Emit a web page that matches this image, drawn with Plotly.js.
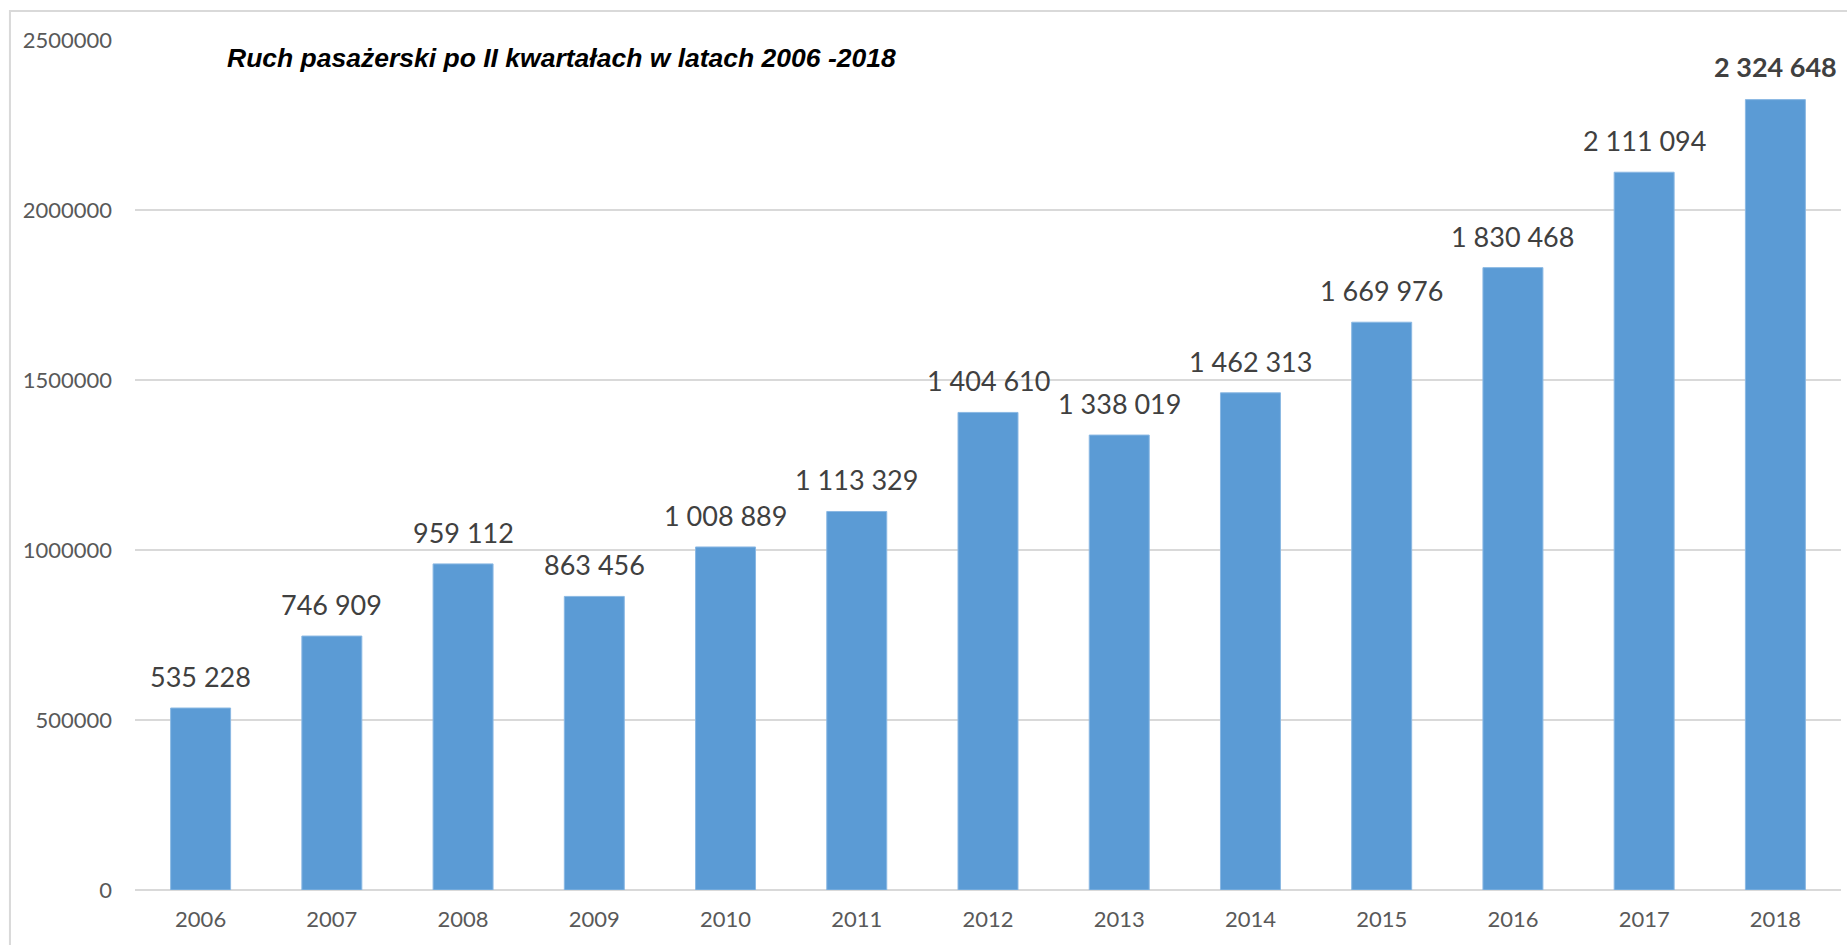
<!DOCTYPE html>
<html>
<head>
<meta charset="utf-8">
<script src="https://cdn.plot.ly/plotly-3.0.1.min.js"></script>
<style>html,body{margin:0;padding:0;background:#fff;}#chart{width:1847px;height:945px;}</style>
</head>
<body>
<div id="chart"></div>
<script>
const years = ["2006","2007","2008","2009","2010","2011","2012","2013","2014","2015","2016","2017","2018"];
const passengers = [535228, 746909, 959112, 863456, 1008889, 1113329, 1404610, 1338019, 1462313, 1669976, 1830468, 2111094, 2324648];
const yTicks = [0, 500000, 1000000, 1500000, 2000000, 2500000];
const titleText = "Ruch pasażerski po II kwartałach w latach 2006 -2018";

function fmt(v){ return String(v).replace(/\B(?=(\d{3})+(?!\d))/g, " "); }

const annotations = years.map((yr, i) => {
  const last = i === years.length - 1;
  return {
    x: i, y: passengers[i], xref: 'x', yref: 'y',
    text: last ? '<b>' + fmt(passengers[i]) + '</b>' : fmt(passengers[i]),
    showarrow: false, xanchor: 'center', yanchor: 'bottom', yshift: last ? 15 : 13,
    font: {family: 'Lato, "Open Sans", sans-serif', size: 27, color: '#404040'}
  };
});
annotations.push({
  xref: 'paper', yref: 'paper', x: 0.0528, y: 0.979, xanchor: 'left', yanchor: 'middle',
  text: '<b><i>' + titleText + '</i></b>', showarrow: false,
  font: {family: '"Liberation Sans", Arial, sans-serif', size: 26.5, color: '#000000'}
});

const trace = {
  type: 'bar', x: years, y: passengers,
  marker: {color: '#5b9bd5', line: {color: '#8ab8e3', width: 1}},
  hoverinfo: 'x+y'
};

const layout = {
  width: 1847, height: 945,
  margin: {l: 135, r: 6, t: 40, b: 55},
  paper_bgcolor: '#ffffff', plot_bgcolor: '#ffffff',
  showlegend: false,
  bargap: 0.543,
  font: {family: 'Lato, "Open Sans", sans-serif', size: 22, color: '#595959'},
  xaxis: {
    type: 'category', range: [-0.5, years.length - 0.5],
    showgrid: false, showline: false, ticks: '',
    ticklabelstandoff: 14,
    tickfont: {family: 'Lato, "Open Sans", sans-serif', size: 22, color: '#595959'}
  },
  yaxis: {
    range: [0, 2500000], tickvals: yTicks, tickformat: 'd',
    showgrid: true, gridcolor: '#d9d9d9', gridwidth: 2,
    zeroline: true, zerolinecolor: '#d9d9d9', zerolinewidth: 2,
    showline: false, ticks: '', ticklabelstandoff: 22,
    tickfont: {family: 'Lato, "Open Sans", sans-serif', size: 22, color: '#595959'}
  },
  shapes: [
    {type: 'rect', xref: 'paper', yref: 'paper', x0: 0.0281, x1: 0.4701, y0: 0.985, y1: 1.012,
     fillcolor: '#ffffff', line: {width: 0}, layer: 'above'},
    {type: 'rect', xref: 'paper', yref: 'paper', x0: -0.0733, x1: 1.006, y0: -0.08, y1: 1.0341,
     fillcolor: 'rgba(0,0,0,0)', line: {color: '#d9d9d9', width: 2}, layer: 'below'}
  ],
  annotations: annotations
};

Plotly.newPlot('chart', [trace], layout, {displayModeBar: false, staticPlot: true});
</script>
</body>
</html>
